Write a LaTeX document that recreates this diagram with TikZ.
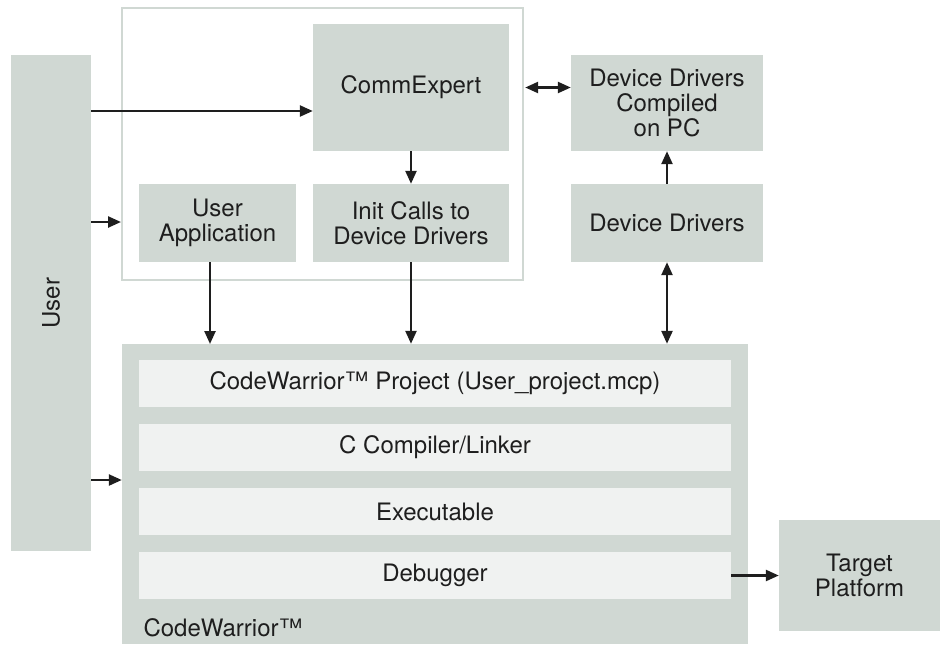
\documentclass[tikz,border=0pt]{standalone}
\usepackage{fontspec}
\setmainfont{TeX Gyre Heros}
\usetikzlibrary{arrows.meta}
\definecolor{boxg}{RGB}{208,216,211}
\definecolor{barg}{RGB}{240,242,241}
\definecolor{ink}{RGB}{30,30,30}
\begin{document}
\begin{tikzpicture}[x=1pt,y=-1pt,
  txt/.style={font=\fontsize{24}{25}\selectfont,text=ink},
  box/.style={fill=boxg,draw=none,align=center,txt,inner sep=0pt},
  bar/.style={fill=barg,draw=none,txt,inner sep=0pt,minimum width=592pt,minimum height=47pt},
  conn/.style={draw=ink,line width=2.4pt,-{Triangle[length=13pt,width=11pt]}},
  bconn/.style={draw=ink,line width=2.4pt,{Triangle[length=13pt,width=11pt]}-{Triangle[length=13pt,width=11pt]}}]
\useasboundingbox (0,0) rectangle (941,646);
% user bar
\path[fill=boxg] (11,55) rectangle (91,551);
\node[rotate=90,txt] (user) at (51,303) {User};
\coordinate (u1) at (91,111);
\coordinate (u2) at (91,222);
\coordinate (u3) at (91,480);
% frame
\node[draw=boxg,line width=2pt,minimum width=401pt,minimum height=272pt,inner sep=0pt] (frame) at (322.5,144) {};
% boxes
\node[box,minimum width=196pt,minimum height=127pt] (comm) at (411,87.5) {CommExpert};
\node[box,minimum width=157pt,minimum height=78pt] (uapp) at (217.5,223) {User\\Application};
\node[box,minimum width=196pt,minimum height=78pt] (init) at (411,223) {Init Calls to\\Device Drivers};
\node[box,minimum width=192pt,minimum height=96pt] (ddpc) at (667,103) {Device Drivers\\Compiled\\on PC};
\node[box,minimum width=192pt,minimum height=78pt] (dd) at (667,223) {Device Drivers};
% codewarrior
\node[fill=boxg,minimum width=626pt,minimum height=300pt,inner sep=0pt] (cw) at (435,494) {};
\node[anchor=base west,txt] (cwlabel) at (140,636) {CodeWarrior™};
\node[bar] (proj) at (435,383.5) {CodeWarrior™ Project (User\_project.mcp)};
\node[bar] (comp) at (435,447.5) {C Compiler/Linker};
\node[bar] (exe) at (435,511.5) {Executable};
\node[bar] (dbg) at (435,575.5) {Debugger};
\node[box,minimum width=161pt,minimum height=111pt] (tgt) at (859.5,575.5) {Target\\Platform};
% connectors
\draw[conn] (u1) -- (comm.west|-u1);
\draw[conn] (u2) -- (frame.west|-u2);
\draw[conn] (u3) -- (cw.west|-u3);
\draw[conn] (comm) -- (init);
\draw[bconn] ([xshift=16pt]comm.east) -- (ddpc.west|-comm.east);
\draw[conn] (dd) -- (ddpc);
\draw[bconn] (dd.south) -- (dd.south|-cw.north);
\draw[conn] (uapp.south-|210,0) -- (210,344);
\draw[conn] (init.south) -- (init.south|-cw.north);
\draw[conn] (dbg.east) -- (tgt.west|-dbg.east);
\end{tikzpicture}
\end{document}
